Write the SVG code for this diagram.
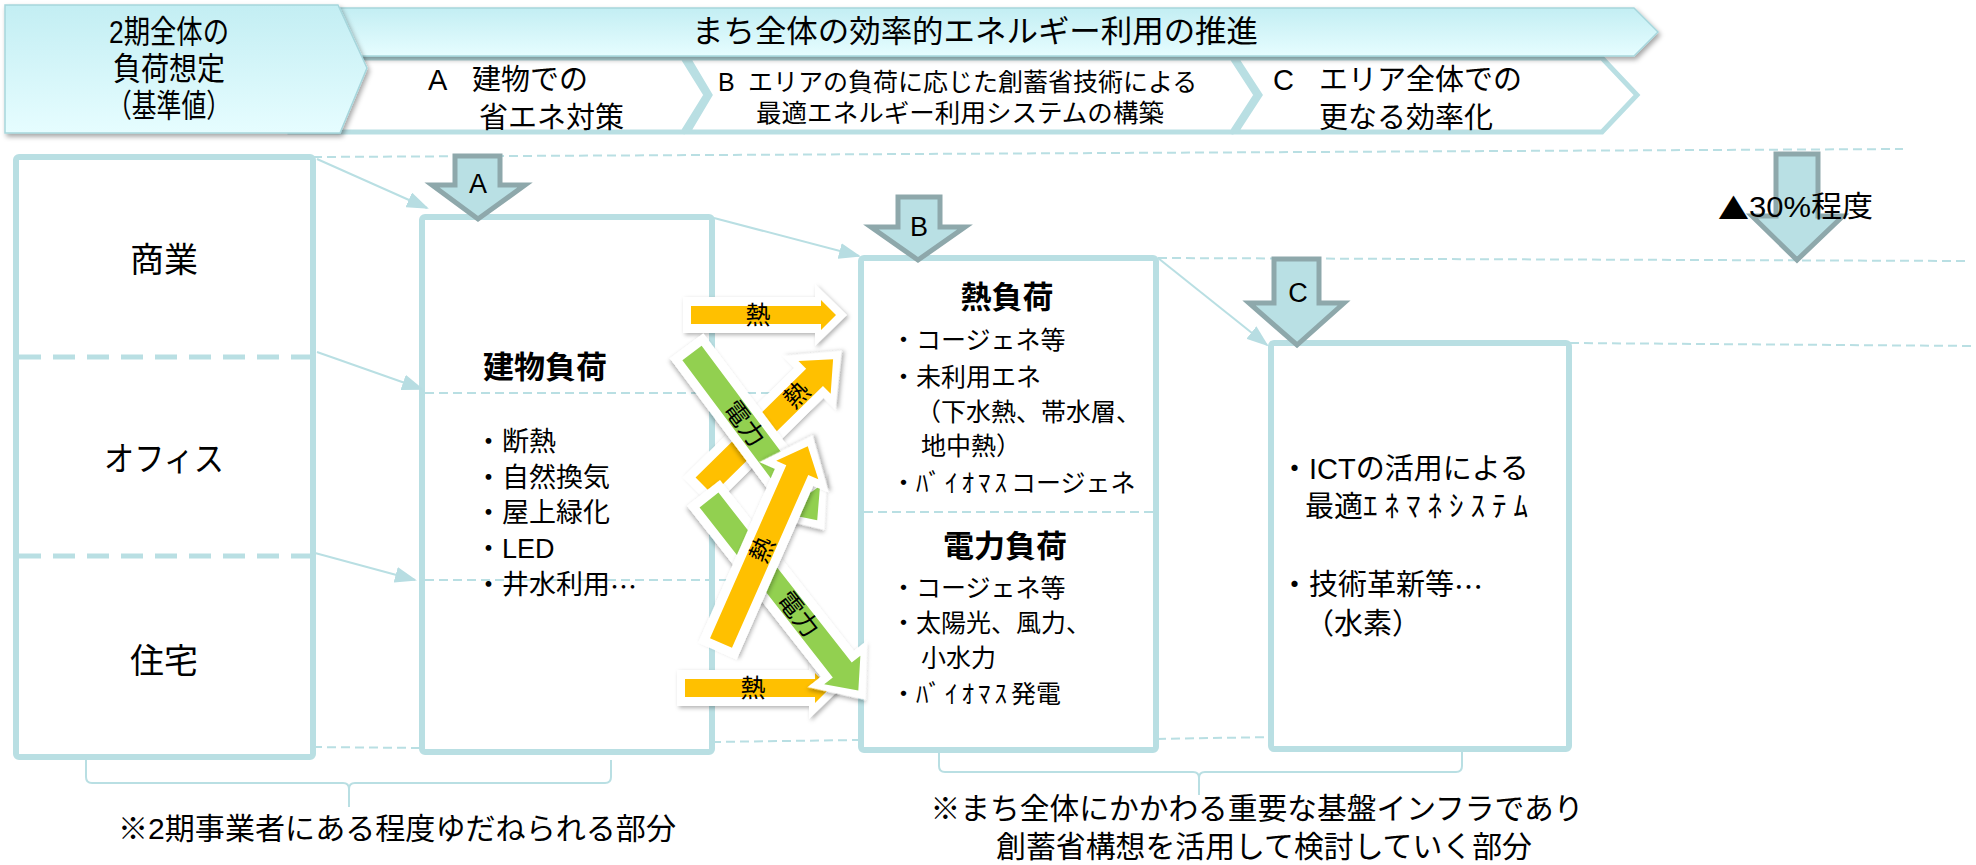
<svg xmlns="http://www.w3.org/2000/svg" width="1976" height="865" viewBox="0 0 1976 865">
<defs>
<linearGradient id="hdr" x1="0" y1="0" x2="0" y2="1"><stop offset="0" stop-color="#c3eef3"/><stop offset="1" stop-color="#e6fdff"/></linearGradient>
<filter id="sh" x="-10%" y="-20%" width="130%" height="160%"><feDropShadow dx="2" dy="3" stdDeviation="2.5" flood-color="#000" flood-opacity="0.35"/></filter>
<filter id="ash" x="-30%" y="-30%" width="160%" height="160%"><feDropShadow dx="2" dy="2" stdDeviation="2" flood-color="#000" flood-opacity="0.3"/></filter>
<marker id="ah" markerUnits="userSpaceOnUse" markerWidth="22" markerHeight="16" refX="20" refY="8" orient="auto"><path d="M0,0 L22,8 L0,16 Z" fill="#b7dde2"/></marker>
</defs>
<style>
.t{font-family:"Liberation Sans","Noto Sans CJK JP",sans-serif;fill:#000}
.jp{font-family:"Noto Sans CJK JP",sans-serif}
.c{text-anchor:middle;dominant-baseline:central}
.l{dominant-baseline:central}
.b{font-weight:700}
.box{fill:#fff;stroke:#b9dfe3;stroke-width:6}
.div{stroke:#b9dfe3;stroke-width:5;stroke-dasharray:22 12;fill:none}
.guide{stroke:#b9dfe3;stroke-width:2;stroke-dasharray:9 5;fill:none}
.conn{stroke:#b9dfe3;stroke-width:2;fill:none}
.blk{fill:#b9e0e4;stroke:#8ea8ab;stroke-width:5}
.chev{fill:#fff;stroke:#b9dfe3;stroke-width:5}
.hdr{fill:url(#hdr);stroke:#a6d6dc;stroke-width:1.5;filter:url(#sh)}
.wa{fill:#fff;filter:url(#ash)}
.or{fill:#ffc000}
.gr{fill:#92d050}
.brk{stroke:#b9dfe3;stroke-width:2;fill:none}
</style>

<!-- header -->
<g id="header-A">
<polygon class="chev" points="290,58 683,58 706,95 683,132 290,132"/>
<text class="t l" x="428" y="80" font-size="29">A<tspan x="472">建物での</tspan></text>
<text class="t l" x="479" y="118" font-size="29">省エネ対策</text>
</g>
<g id="header-B">
<polygon class="chev" points="688,58 1232,58 1256,95 1232,132 688,132 710,95"/>
<text class="t l" x="718" y="82" font-size="25">B<tspan x="748">エリアの負荷に応じた創蓄省技術による</tspan></text>
<text class="t l" x="756" y="113" font-size="25" textLength="408" lengthAdjust="spacingAndGlyphs">最適エネルギー利用システムの構築</text>
</g>
<g id="header-C">
<polygon class="chev" points="1236,58 1602,58 1637,95 1602,132 1236,132 1260,95"/>
<text class="t l" x="1273" y="80" font-size="29">C<tspan x="1319">エリア全体での</tspan></text>
<text class="t l" x="1319" y="118" font-size="29">更なる効率化</text>
</g>
<g id="banner">
<polygon class="hdr" points="320,8 1634,8 1658,32 1634,56 320,56"/>
<text class="t c" x="975" y="31" font-size="31" textLength="566" lengthAdjust="spacingAndGlyphs">まち全体の効率的エネルギー利用の推進</text>
</g>
<g id="baseline-header">
<polygon class="hdr" points="5,5 338,5 367,68 340,133 5,133"/>
<text class="t c" x="169" y="32" font-size="32" textLength="120" lengthAdjust="spacingAndGlyphs">2期全体の</text>
<text class="t c" x="169" y="69" font-size="32" textLength="112" lengthAdjust="spacingAndGlyphs">負荷想定</text>
<text class="t c" x="169" y="106" font-size="32" textLength="124" lengthAdjust="spacingAndGlyphs">（基準値）</text>
</g>

<!-- guides -->
<g id="guides">
<path class="guide" d="M313,157 L1903,149"/>
<path class="guide" d="M1158,258 L1966,261"/>
<path class="guide" d="M1570,343 L1976,346"/>
<path class="guide" d="M313,747 L422,748"/>
<path class="guide" d="M712,742 L860,740"/>
<path class="guide" d="M1157,739 L1272,737"/>
</g>

<!-- nodes -->
<g id="node-base">
<rect class="box" x="16" y="157" width="297" height="600" rx="3"/>
<line class="div" x1="19" y1="357" x2="310" y2="357"/>
<line class="div" x1="19" y1="556" x2="310" y2="556"/>
<text class="t c" x="164" y="260" font-size="34">商業</text>
<text class="t c" x="164" y="459" font-size="34" textLength="120" lengthAdjust="spacingAndGlyphs">オフィス</text>
<text class="t c" x="164" y="661" font-size="34">住宅</text>
</g>

<g id="node-A">
<rect class="box" x="422" y="217" width="290" height="535" rx="3"/>
<path class="guide" d="M425,393 L770,393"/>
<path class="guide" d="M425,580 L760,580"/>
<text class="t c b" x="545" y="367" font-size="31">建物負荷</text>
<g class="t l" font-size="27">
<text x="475" y="442">・断熱</text>
<text x="475" y="478">・自然換気</text>
<text x="475" y="513">・屋上緑化</text>
<text x="475" y="549">・LED</text>
<text x="475" y="585">・井水利用<tspan class="jp">…</tspan></text>
</g>
</g>

<g id="node-B">
<rect class="box" x="861" y="258" width="295" height="492" rx="3"/>
<path class="guide" d="M864,512 L1153,512"/>
<text class="t c b" x="1007" y="297" font-size="31">熱負荷</text>
<g class="t l" font-size="25">
<text x="891" y="340">・コージェネ等</text>
<text x="891" y="377">・未利用エネ</text>
<text x="916" y="412">（下水熱、帯水層、</text>
<text x="921" y="446">地中熱）</text>
<text x="891" y="483">・<tspan letter-spacing="4">ﾊﾞｲｵﾏｽ</tspan>コージェネ</text>
</g>
<text class="t c b" x="1005" y="546" font-size="31">電力負荷</text>
<g class="t l" font-size="25">
<text x="891" y="588">・コージェネ等</text>
<text x="891" y="623">・太陽光、風力、</text>
<text x="921" y="658">小水力</text>
<text x="891" y="694">・<tspan letter-spacing="4">ﾊﾞｲｵﾏｽ</tspan>発電</text>
</g>
</g>

<g id="node-C">
<rect class="box" x="1271" y="343" width="298" height="406" rx="3"/>
<g class="t l" font-size="29">
<text x="1280" y="469">・ICTの活用による</text>
<text x="1305" y="507">最適<tspan letter-spacing="7">ｴﾈﾏﾈｼｽﾃﾑ</tspan></text>
<text x="1280" y="585">・技術革新等<tspan class="jp">…</tspan></text>
<text x="1305" y="624">（水素）</text>
</g>
</g>

<!-- connectors -->
<g id="connectors">
<path class="conn" marker-end="url(#ah)" d="M317,159 L427,208"/>
<path class="conn" marker-end="url(#ah)" d="M317,352 L422,389"/>
<path class="conn" marker-end="url(#ah)" d="M315,553 L415,580"/>
<path class="conn" marker-end="url(#ah)" d="M714,218 L859,256"/>
<path class="conn" marker-end="url(#ah)" d="M1158,258 L1267,345"/>
<path class="brk" d="M86,760 L86,777 Q86,783 92,783 L343,783 Q349,783 349,789 L349,807 M349,789 Q349,783 355,783 L605,783 Q611,783 611,777 L611,760"/>
<path class="brk" d="M939,752 L939,766 Q939,772 945,772 L1193,772 Q1199,772 1199,778 L1199,795 M1199,778 Q1199,772 1205,772 L1456,772 Q1462,772 1462,766 L1462,752"/>
</g>

<!-- energy flows -->
<g id="flow-heat-top" transform="translate(691,315)">
<polygon class="wa" points="-8,-18 124,-18 124,-31 156,0 124,31 124,18 -8,18"/>
<polygon class="or" points="0,-9 130,-9 130,-15 145,0 130,15 130,9 0,9"/>
<text class="t c" x="67" y="0" font-size="25">熱</text>
</g>
<g id="flow-heat-bottom" transform="translate(685,688)">
<polygon class="wa" points="-8,-18 124,-18 124,-31 156,0 124,31 124,18 -8,18"/>
<polygon class="or" points="0,-9 130,-9 130,-15 145,0 130,15 130,9 0,9"/>
<text class="t c" x="68" y="0" font-size="25">熱</text>
</g>
<g id="flow-heat-1" transform="translate(704,486) rotate(-44.5)">
<polygon class="wa" points="-9,-21 147,-21 147,-38 193,0 147,38 147,21 -9,21"/>
<polygon class="or" points="0,-12 155,-12 155,-23 181,0 155,23 155,12 0,12"/>
<text class="t c" x="130" y="0" font-size="25">熱</text>
</g>
<g id="flow-power-1" transform="translate(692,353) rotate(53.2)">
<polygon class="wa" points="-9,-21 175,-21 175,-38 221,0 175,38 175,21 -9,21"/>
<polygon class="gr" points="0,-12 183,-12 183,-23 209,0 183,23 183,12 0,12"/>
<text class="t c" x="88" y="0" font-size="25">電力</text>
</g>
<g id="flow-power-2" transform="translate(709,500) rotate(51.9)">
<polygon class="wa" points="-9,-21 208,-21 208,-38 254,0 208,38 208,21 -9,21"/>
<polygon class="gr" points="0,-12 216,-12 216,-23 242,0 216,23 216,12 0,12"/>
<text class="t c" x="145" y="0" font-size="25">電力</text>
</g>
<g id="flow-heat-2" transform="translate(721,643) rotate(-66.2)">
<polygon class="wa" points="-9,-21 181,-21 181,-38 227,0 181,38 181,21 -9,21"/>
<polygon class="or" points="0,-12 189,-12 189,-23 215,0 189,23 189,12 0,12"/>
<text class="t c" x="102" y="0" font-size="25">熱</text>
</g>

<!-- step arrows -->
<g id="step-A">
<polygon class="blk" points="455,156 500,156 500,185 525,185 478,219 432,185 455,185"/>
<text class="t c" x="478" y="184" font-size="27">A</text>
</g>
<g id="step-B">
<polygon class="blk" points="898,197 940,197 940,227 965,227 918,260 871,227 898,227"/>
<text class="t c" x="919" y="227" font-size="27">B</text>
</g>
<g id="step-C">
<polygon class="blk" points="1274,259 1319,259 1319,303 1344,303 1297,345 1249,303 1274,303"/>
<text class="t c" x="1298" y="293" font-size="27">C</text>
</g>
<g id="step-total">
<polygon class="blk" points="1776,154 1818,154 1818,216 1843,216 1797,260 1752,216 1776,216"/>
<text class="t l" x="1718" y="207" font-size="29" textLength="155" lengthAdjust="spacingAndGlyphs"><tspan class="jp">▲</tspan>30%程度</text>
</g>

<!-- notes -->
<g id="notes">
<text class="t c" x="397" y="828" font-size="30" textLength="558" lengthAdjust="spacingAndGlyphs">※2期事業者にある程度ゆだねられる部分</text>
<text class="t c" x="1257" y="808" font-size="30" textLength="653" lengthAdjust="spacingAndGlyphs">※まち全体にかかわる重要な基盤インフラであり</text>
<text class="t c" x="1264" y="846" font-size="30" textLength="536" lengthAdjust="spacingAndGlyphs">創蓄省構想を活用して検討していく部分</text>
</g>
</svg>
